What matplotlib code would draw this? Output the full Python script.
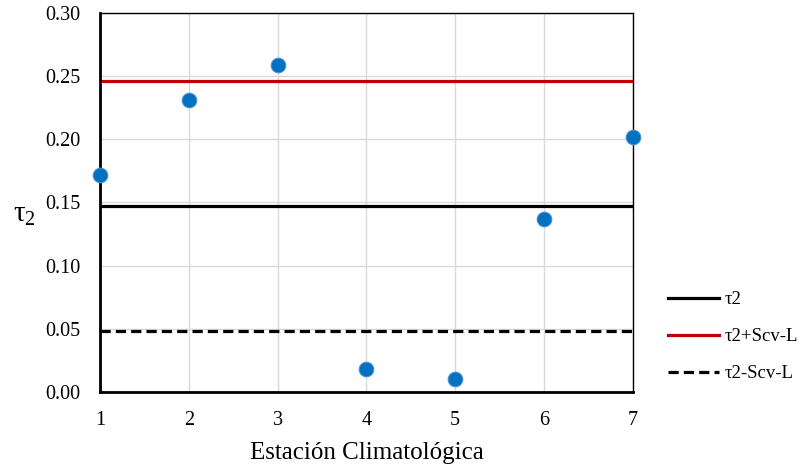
import matplotlib
matplotlib.use('Agg')
import matplotlib.pyplot as plt

# station values
estaciones = [1, 2, 3, 4, 5, 6, 7]
tau2_vals = [0.172, 0.231, 0.259, 0.018, 0.010, 0.137, 0.202]

# reference lines
tau2_mean = 0.147
tau2_plus = 0.246
tau2_minus = 0.048

plt.rcParams['font.family'] = ['Liberation Serif', 'DejaVu Serif']
plt.rcParams['mathtext.fontset'] = 'custom'
plt.rcParams['mathtext.rm'] = 'Liberation Serif'

fig = plt.figure(figsize=(8.04, 4.67), dpi=100)
ax = fig.add_axes([0.1244, 0.1606, 0.6626, 0.8116])

ax.grid(True, color='#d9d9d9', linewidth=1)
ax.set_axisbelow(True)

l1 = ax.axhline(tau2_mean, color='black', linewidth=2.3, label='τ2')
l2 = ax.axhline(tau2_plus, color='#c00000', linewidth=2.3, label='τ2+Scv-L')
l3 = ax.axhline(tau2_minus, color='black', linewidth=2.3, linestyle=(0, (3.2, 1.6)), label='τ2-Scv-L')

ax.plot(estaciones, tau2_vals, 'o', color='#0070c0', markersize=10.5,
        markeredgecolor='#4a90d0', markeredgewidth=0.8, clip_on=False, zorder=5)

ax.set_xlim(1, 7)
ax.set_ylim(0, 0.30)
ax.set_xticks(estaciones)
ax.set_yticks([0, 0.05, 0.10, 0.15, 0.20, 0.25, 0.30])
ax.set_yticklabels(['%.2f' % v for v in [0, 0.05, 0.10, 0.15, 0.20, 0.25, 0.30]])
ax.tick_params(length=0, labelsize=14.5)
ax.tick_params(axis='y', pad=14)
ax.tick_params(axis='x', pad=14)

for s in ['left', 'bottom']:
    ax.spines[s].set_linewidth(2)
for s in ['top', 'right']:
    ax.spines[s].set_linewidth(1)

ax.set_xlabel('Estación Climatológica', fontsize=18, labelpad=8)
fig.text(0.03, 0.54, 'τ$_\\mathrm{2}$', fontsize=21, ha='center', va='center')

fig.legend(handles=[l1, l2, l3], loc='center left', bbox_to_anchor=(0.81, 0.279),
           frameon=False, fontsize=13.5, handlelength=2.7, handletextpad=0.3,
           labelspacing=1.05)

fig.savefig('out.png', dpi=100)
